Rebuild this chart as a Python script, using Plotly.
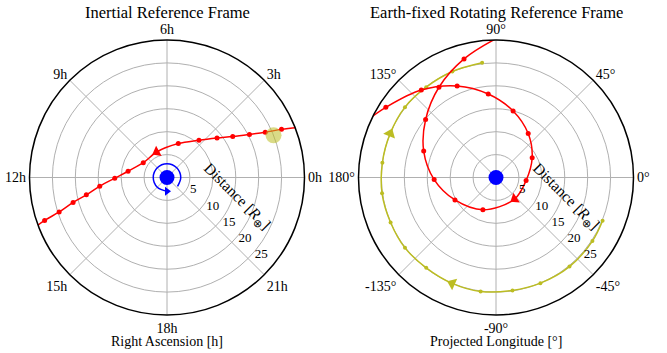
import math
import plotly.graph_objects as go

FONT = "Liberation Serif"
RED = "#ff0000"
BLUE = "#0000ff"
OLIVE = "#bcbd22"
GRID = "#b0b0b0"

# ---------------- Inertial frame ----------------
# Flyby track sampled hourly: right ascension [h] and distance [Earth radii].
# First and last entries are where the track leaves the plotted disc.
inertial_ra_h = [1.40, 1.52, 1.65, 1.84, 2.13, 2.55, 3.29, 4.77, 7.47, 9.87,
                 11.39, 12.05, 12.49, 12.81, 12.99, 13.18, 13.29, 13.37]
inertial_dist = [30.5, 27.1, 23.6, 20.3, 16.9, 13.9, 10.7, 7.8, 6.0, 6.1,
                 8.6, 11.4, 14.8, 18.0, 21.2, 24.7, 28.3, 30.5]
inertial_arrow_idx = 8

# Moon position
moon_ra_h = [1.44]
moon_dist = [25.0]

# ---------------- Earth-fixed rotating frame ----------------
# Same flyby, listed in order of travel (enters upper left, leaves at top).
rot_lon = [155.5, 147.5, 130.5, 113.0, 95.3, 75.6, 53.8, 28.7, 354.3, 310.7,
           247.9, 208.7, 181.9, 159.9, 140.5, 122.3, 105.1, 89.0]
rot_dist = [30.6, 28.5, 25.1, 21.7, 18.3, 15.0, 11.9, 9.0, 6.6, 6.2,
            7.6, 10.2, 13.5, 16.8, 19.9, 23.3, 26.8, 30.6]
rot_arrow_idx = 9

moon_lon = [-22.1, -33.4, -50.5, -67.2, -81.7, -97.7, -112.5, -127.7, -142.3,
            -156.9, -172.1, 172.6, 157.5, 142.3, 127.7, 112.4, 96.9]
moon_rot_dist = [25.1, 25.2, 25.2, 25.0, 24.9, 25.1, 25.0, 24.9, 25.1,
                 25.0, 25.1, 25.0, 25.0, 25.1, 24.9, 25.0, 25.2]
moon_arrow_idx = [6, 12]

# Earth spin indicator (counterclockwise arc ending in an arrowhead)
spin_theta = [-40, 0, 45, 90, 135, 180, 225, 270]
spin_r = [3.0, 3.0, 3.0, 3.0, 3.0, 3.0, 3.0, 3.0]

tick_deg = [0, 45, 90, 135, 180, 225, 270, 315]
ra_ticktext = ["0h", "3h", "6h", "9h", "12h", "15h", "18h", "21h"]
lon_ticktext = ["0°", "45°", "90°", "135°", "180°", "-135°", "-90°", "-45°"]


def heading(r, th, i):
    """Marker rotation (clockwise from up) following the track at index i."""
    j0, j1 = max(i - 1, 0), min(i + 1, len(r) - 1)
    x0, y0 = r[j0] * math.cos(math.radians(th[j0])), r[j0] * math.sin(math.radians(th[j0]))
    x1, y1 = r[j1] * math.cos(math.radians(th[j1])), r[j1] * math.sin(math.radians(th[j1]))
    return 90 - math.degrees(math.atan2(y1 - y0, x1 - x0))


inertial_deg = [h * 15 for h in inertial_ra_h]
moon_deg = [h * 15 for h in moon_ra_h]

fig = go.Figure()

# ---- left panel ----
fig.add_trace(go.Scatterpolar(
    r=inertial_dist, theta=inertial_deg, mode="lines",
    line=dict(color=RED, width=1.5, shape="spline"), subplot="polar"))
fig.add_trace(go.Scatterpolar(
    r=inertial_dist[1:-1], theta=inertial_deg[1:-1], mode="markers",
    marker=dict(color=RED, size=5), subplot="polar"))
fig.add_trace(go.Scatterpolar(
    r=[inertial_dist[inertial_arrow_idx]], theta=[inertial_deg[inertial_arrow_idx]],
    mode="markers", subplot="polar",
    marker=dict(symbol="triangle-up", color=RED, size=10,
                angle=heading(inertial_dist, inertial_deg, inertial_arrow_idx))))
fig.add_trace(go.Scatterpolar(
    r=moon_dist, theta=moon_deg, mode="markers", subplot="polar",
    marker=dict(color=OLIVE, size=16, opacity=0.55)))
fig.add_trace(go.Scatterpolar(
    r=spin_r, theta=spin_theta, mode="lines", subplot="polar",
    line=dict(color=BLUE, width=1.5, shape="spline")))
fig.add_trace(go.Scatterpolar(
    r=[spin_r[-1]], theta=[spin_theta[-1]], mode="markers", subplot="polar",
    marker=dict(symbol="triangle-up", color=BLUE, size=8, angle=90)))
fig.add_trace(go.Scatterpolar(
    r=[0], theta=[0], mode="markers", subplot="polar",
    marker=dict(color=BLUE, size=15)))

# ---- right panel ----
fig.add_trace(go.Scatterpolar(
    r=moon_rot_dist, theta=moon_lon, mode="lines+markers", subplot="polar2",
    line=dict(color=OLIVE, width=1.5, shape="spline"),
    marker=dict(color=OLIVE, size=4)))
for k in moon_arrow_idx:
    fig.add_trace(go.Scatterpolar(
        r=[moon_rot_dist[k]], theta=[moon_lon[k]], mode="markers", subplot="polar2",
        marker=dict(symbol="triangle-up", color=OLIVE, size=11,
                    angle=heading(moon_rot_dist, moon_lon, k))))
fig.add_trace(go.Scatterpolar(
    r=rot_dist, theta=rot_lon, mode="lines", subplot="polar2",
    line=dict(color=RED, width=1.5, shape="spline")))
fig.add_trace(go.Scatterpolar(
    r=rot_dist[1:-1], theta=rot_lon[1:-1], mode="markers", subplot="polar2",
    marker=dict(color=RED, size=5)))
fig.add_trace(go.Scatterpolar(
    r=[rot_dist[rot_arrow_idx]], theta=[rot_lon[rot_arrow_idx]],
    mode="markers", subplot="polar2",
    marker=dict(symbol="triangle-up", color=RED, size=10,
                angle=heading(rot_dist, rot_lon, rot_arrow_idx))))
fig.add_trace(go.Scatterpolar(
    r=[0], theta=[0], mode="markers", subplot="polar2",
    marker=dict(color=BLUE, size=15)))


def polar_cfg(xdom, ticktext):
    return dict(
        domain=dict(x=xdom, y=[0, 1]),
        bgcolor="white",
        angularaxis=dict(
            direction="counterclockwise", rotation=0,
            tickmode="array", tickvals=tick_deg, ticktext=ticktext,
            showline=True, linecolor="black", linewidth=1.5,
            gridcolor=GRID, gridwidth=0.8, ticks="",
            tickfont=dict(family=FONT, size=14, color="black")),
        radialaxis=dict(
            range=[0, 30], tickmode="array", tickvals=[5, 10, 15, 20, 25],
            angle=-45, side="counterclockwise", showline=False,
            gridcolor=GRID, gridwidth=0.8, ticks="", tickangle=-45,
            tickfont=dict(family=FONT, size=13, color="black")),
    )


W, H, T, B = 667, 353, 40, 38
plot_h = H - T - B


def py(pix):
    return (H - B - pix) / plot_h


dist_title = "Distance [<i>R</i><sub>⊕</sub>]"
ann = []
for cx, title, xlabel in [(167, "Inertial Reference Frame", "Right Ascension [h]"),
                          (496, "Earth-fixed Rotating Reference Frame", "Projected Longitude [°]")]:
    ann.append(dict(text=title, x=cx / W, y=py(12), xref="paper", yref="paper",
                    showarrow=False, xanchor="center", yanchor="middle",
                    font=dict(family=FONT, size=16.5, color="black")))
    ann.append(dict(text=xlabel, x=cx / W, y=py(341), xref="paper", yref="paper",
                    showarrow=False, xanchor="center", yanchor="middle",
                    font=dict(family=FONT, size=14, color="black")))
    ann.append(dict(text=dist_title, x=(cx + 70) / W, y=py(196), xref="paper", yref="paper",
                    showarrow=False, xanchor="center", yanchor="middle", textangle=45,
                    font=dict(family=FONT, size=15.5, color="black")))

fig.update_layout(
    width=W, height=H,
    margin=dict(l=0, r=0, t=T, b=B),
    paper_bgcolor="white", plot_bgcolor="white",
    showlegend=False,
    font=dict(family=FONT, size=13, color="black"),
    polar=polar_cfg([29.5 / W, 304.5 / W], ra_ticktext),
    polar2=polar_cfg([358.5 / W, 633.5 / W], lon_ticktext),
    annotations=ann,
)

fig.write_html("out.html")
